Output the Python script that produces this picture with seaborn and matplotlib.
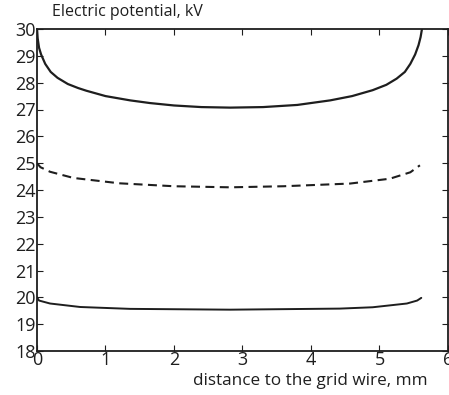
import numpy as np
import pandas as pd
import matplotlib
matplotlib.use("Agg")
import matplotlib.pyplot as plt
import seaborn as sns

# Data
x_top = [0.0, 0.01, 0.03, 0.06, 0.12, 0.2, 0.3, 0.45, 0.6, 0.72, 1.0, 1.36, 1.65, 2.0, 2.4,
         2.82, 3.3, 3.8, 4.28, 4.6, 4.9, 5.1, 5.25, 5.37, 5.45, 5.52, 5.57, 5.6, 5.62]
y_top = [30.0, 29.65, 29.3, 29.05, 28.7, 28.4, 28.18, 27.95, 27.8, 27.7, 27.5, 27.34, 27.24,
         27.15, 27.09, 27.07, 27.09, 27.17, 27.34, 27.5, 27.72, 27.92, 28.15, 28.4, 28.7,
         29.05, 29.4, 29.7, 30.0]

x_mid = [0.0, 0.05, 0.19, 0.53, 1.2, 2.0, 2.82, 3.6, 4.57, 5.15, 5.45, 5.59]
y_mid = [25.0, 24.85, 24.68, 24.45, 24.25, 24.14, 24.1, 24.14, 24.24, 24.42, 24.66, 24.92]

x_low = [0.0, 0.03, 0.19, 0.63, 1.36, 2.82, 4.42, 4.9, 5.4, 5.55, 5.61]
y_low = [20.0, 19.88, 19.77, 19.64, 19.57, 19.54, 19.58, 19.63, 19.77, 19.88, 19.98]

x_ticks = [0, 1, 2, 3, 4, 5, 6]
y_ticks = list(range(18, 31))

title = "Electric potential, kV"
xlabel = "distance to the grid wire, mm"

sns.set_style("ticks")
plt.rcParams['font.family'] = ['Open Sans', 'DejaVu Sans']

fig = plt.figure(figsize=(4.49, 3.95), dpi=100)
ax = fig.add_axes([37/449, 44/395, 411/449, 322/395])

col = "#1e1e1e"
sns.lineplot(x=x_top, y=y_top, ax=ax, color=col, lw=1.6, sort=False)
sns.lineplot(x=x_mid, y=y_mid, ax=ax, color=col, lw=1.5, sort=False, linestyle=(0, (4.3, 2.6)))
sns.lineplot(x=x_low, y=y_low, ax=ax, color=col, lw=1.4, sort=False)

ax.set_xlim(0, 6)
ax.set_ylim(18, 30)
ax.set_xticks(x_ticks)
ax.set_yticks(y_ticks)
ax.set_xticklabels([str(t) for t in x_ticks])
ax.set_yticklabels([str(t) for t in y_ticks])
ax.tick_params(direction='in', length=4, width=0.8, color=col, labelsize=13,
               labelcolor=col, top=True, right=True, pad=1)
ax.tick_params(axis='x', pad=0)
for s in ax.spines.values():
    s.set_visible(True)
    s.set_linewidth(1.3)
    s.set_color(col)

fig.text(52/449, 1 - 12/395, title, fontsize=11.5, color=col, va='center', ha='left')
fig.text(310/449, 1 - 381/395, xlabel, fontsize=12.3, color=col, va='center', ha='center')

fig.savefig("out.png", dpi=100)
